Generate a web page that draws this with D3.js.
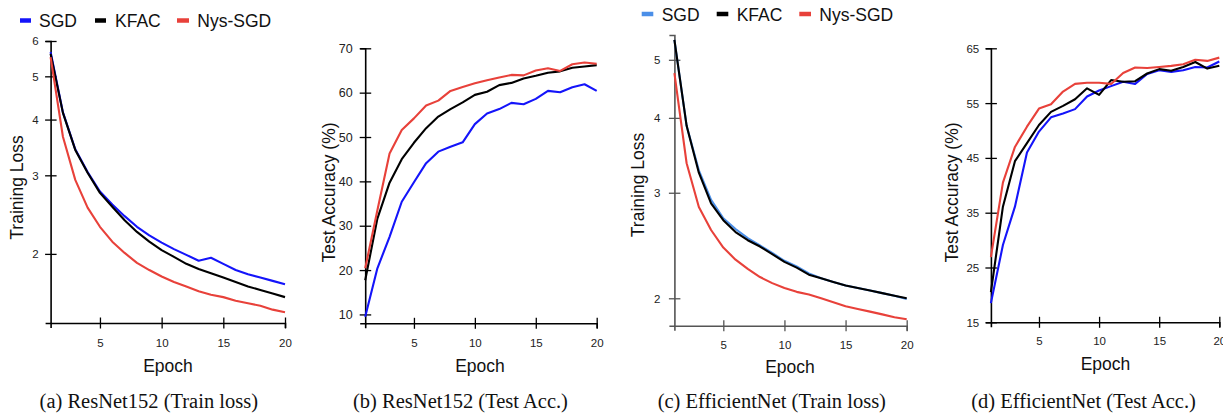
<!DOCTYPE html>
<html>
<head>
<meta charset="utf-8">
<script src="https://cdn.jsdelivr.net/npm/d3@7"></script>
<style>
  html, body { margin: 0; padding: 0; background: #fff; }
  svg { display: block; }
  text { font-family: "Liberation Sans", Arial, Helvetica, sans-serif; }
  .caption { font-family: "Liberation Serif", "Times New Roman", serif; }
</style>
</head>
<body>
<svg id="chart" width="1223" height="413"></svg>
<script>
// ---------- data ----------
const epochs = [1,2,3,4,5,6,7,8,9,10,11,12,13,14,15,16,17,18,19,20];
const seriesNames = ["SGD", "KFAC", "Nys-SGD"];

// (a) ResNet152 train loss
const resnetLossSGD  = [5.67,4.15,3.43,3.05,2.76,2.58,2.43,2.30,2.20,2.12,2.05,1.99,1.93,1.96,1.90,1.84,1.80,1.77,1.74,1.71];
const resnetLossKFAC = [5.62,4.14,3.42,3.04,2.74,2.55,2.38,2.24,2.13,2.04,1.97,1.90,1.85,1.81,1.77,1.73,1.69,1.66,1.63,1.60];
const resnetLossNys  = [5.52,3.66,2.93,2.54,2.30,2.13,2.01,1.91,1.84,1.78,1.73,1.69,1.65,1.62,1.60,1.57,1.55,1.53,1.50,1.48];

// (b) ResNet152 test accuracy
const resnetAccSGD  = [9.5,20.4,27.5,35.4,39.8,44.1,46.7,47.8,48.8,52.9,55.3,56.3,57.7,57.4,58.6,60.4,60.1,61.2,61.9,60.4];
const resnetAccKFAC = [17.7,31.6,39.7,45.0,48.7,52.0,54.6,56.3,57.8,59.5,60.2,61.7,62.2,63.2,63.8,64.5,64.8,65.6,65.9,66.2];
const resnetAccNys  = [20.4,33.5,46.3,51.6,54.2,57.1,58.2,60.4,61.3,62.1,62.8,63.4,64.0,63.9,65.0,65.5,64.9,66.4,66.8,66.5];

// (c) EfficientNet train loss
const effLossSGD  = [5.40,3.88,3.27,2.92,2.72,2.61,2.52,2.45,2.38,2.31,2.26,2.20,2.16,2.13,2.10,2.08,2.06,2.04,2.02,1.995];
const effLossKFAC = [5.40,3.88,3.24,2.88,2.70,2.58,2.50,2.44,2.37,2.30,2.25,2.19,2.16,2.13,2.10,2.08,2.06,2.04,2.02,2.00];
const effLossNys  = [4.75,3.36,2.84,2.60,2.43,2.32,2.24,2.17,2.12,2.08,2.05,2.03,2.00,1.97,1.94,1.92,1.90,1.88,1.86,1.845];

// (d) EfficientNet test accuracy
const effAccSGD  = [18.5,29.1,36.1,46.0,49.8,52.4,53.1,53.9,56.2,57.3,58.1,58.9,58.5,60.3,61.0,60.7,61.0,61.6,61.5,62.6];
const effAccKFAC = [20.5,36.1,44.4,47.7,51.0,53.4,54.5,55.7,57.7,56.5,59.2,58.9,59.0,60.4,61.2,60.9,61.6,62.5,61.3,61.8];
const effAccNys  = [26.9,40.5,47.0,50.7,54.0,54.8,57.1,58.5,58.7,58.7,58.5,60.5,61.5,61.4,61.6,61.8,62.1,62.9,62.7,63.3];

// tick labels
const xTicks = [5,10,15,20];
const resnetLossTicks = [2,3,4,5,6];
const resnetAccTicks = [10,20,30,40,50,60,70];
const effLossTicks = [2,3,4,5];
const effAccTicks = [15,25,35,45,55,65];

const captions = ["(a) ResNet152 (Train loss)", "(b) ResNet152 (Test Acc.)", "(c) EfficientNet (Train loss)", "(d) EfficientNet (Test Acc.)"];
const yTitles = ["Training Loss", "Test Accuracy (%)", "Training Loss", "Test Accuracy (%)"];

// ---------- drawing ----------
const svg = d3.select("#chart");
const RED = "#e8413a", BLUE = "#1414fa", LIGHTBLUE = "#4b8fe8", BLACK = "#000";

const panels = [
  { series:[resnetLossSGD,resnetLossKFAC,resnetLossNys], colors:[BLUE,BLACK,RED], log:true,
    yDomain:[1.4,6], yTicks:resnetLossTicks, xr:[50.6,285], yr:[323,41], axisColor:"#000",
    yLabelX:22.5, yLabelY:187.5, yTickFont:11.5, epochX:168, epochY:371.5, capX:148.8,
    xTickDy:24, yTickDx:12 },
  { series:[resnetAccSGD,resnetAccKFAC,resnetAccNys], colors:[BLUE,BLACK,RED], log:false,
    yDomain:[8,70], yTicks:resnetAccTicks, xr:[365.2,596.7], yr:[323.3,48.3], axisColor:"#000",
    yLabelX:335, yLabelY:192.5, yTickFont:12.5, epochX:480, epochY:371.5, capX:460.5,
    xTickDy:23.4, yTickDx:12.6 },
  { series:[effLossSGD,effLossKFAC,effLossNys], colors:[LIGHTBLUE,BLACK,RED], log:true,
    yDomain:[1.8,5.5], yTicks:effLossTicks, xr:[674.4,906.7], yr:[325.7,35], axisColor:"#555",
    yLabelX:643.5, yLabelY:185, yTickFont:11.5, epochX:790, epochY:372.5, capX:771.8,
    xTickDy:23.3, yTickDx:14 },
  { series:[effAccSGD,effAccKFAC,effAccNys], colors:[BLUE,BLACK,RED], log:false,
    yDomain:[15,65], yTicks:effAccTicks, xr:[990.9,1219.3], yr:[322.3,48.3], axisColor:"#000",
    yLabelX:958, yLabelY:192.5, yTickFont:11.5, epochX:1105.5, epochY:370, capX:1083.5,
    xTickDy:22.7, yTickDx:11.7 }
];

panels.forEach((p, i) => {
  const g = svg.append("g");
  const x = d3.scaleLinear().domain([1,20]).range(p.xr);
  const y = (p.log ? d3.scaleLog() : d3.scaleLinear()).domain(p.yDomain).range(p.yr);

  // y axis
  const yAxis = d3.axisLeft(y).tickValues(p.yTicks).tickFormat(d3.format("d")).tickSizeOuter(0).tickSize(5);
  const ya = g.append("g").attr("transform", `translate(${p.xr[0]},0)`).call(yAxis);
  ya.select(".domain").attr("stroke", p.axisColor).attr("stroke-width", 1.6);
  ya.selectAll(".tick line").attr("x1", -5.5).attr("x2", 6).attr("stroke", p.axisColor).attr("stroke-width", 1.3);
  ya.selectAll(".tick text").attr("x", -p.yTickDx).attr("dy", "0.34em")
    .attr("font-size", p.yTickFont).attr("fill", "#222")
    .style("font-family", '"Liberation Sans", Arial, sans-serif');

  // x axis
  const xAxis = d3.axisBottom(x).tickValues(xTicks).tickFormat(d3.format("d")).tickSizeOuter(0).tickSize(5);
  const xa = g.append("g").attr("transform", `translate(0,${p.yr[0]})`).call(xAxis);
  xa.select(".domain").attr("stroke", p.axisColor).attr("stroke-width", 1.6);
  xa.selectAll(".tick line").attr("y1", -5.5).attr("y2", 5.5).attr("stroke", p.axisColor).attr("stroke-width", 1.3);
  xa.selectAll(".tick text").attr("y", p.xTickDy).attr("dy", 0)
    .attr("font-size", 11.5).attr("fill", "#222")
    .style("font-family", '"Liberation Sans", Arial, sans-serif');

  // lines
  const line = d3.line().x((d, k) => x(epochs[k])).y(d => y(d));
  p.series.forEach((s, k) => {
    g.append("path").datum(s).attr("d", line)
      .attr("fill", "none").attr("stroke", p.colors[k]).attr("stroke-width", 2.1)
      .attr("stroke-linejoin", "round");
  });

  // axis titles
  g.append("text").attr("x", p.epochX).attr("y", p.epochY).attr("text-anchor", "middle")
    .attr("font-size", 17.5).attr("fill", "#111").text("Epoch");
  g.append("text").attr("transform", `translate(${p.yLabelX},${p.yLabelY}) rotate(-90)`)
    .attr("text-anchor", "middle").attr("font-size", 17.5).attr("fill", "#111").text(yTitles[i]);

  // caption
  g.append("text").attr("class", "caption").attr("x", p.capX).attr("y", 408)
    .attr("text-anchor", "middle").attr("font-size", 20.5).attr("fill", "#111").text(captions[i]);
});

// legends
function legend(items, colors, y, ty) {
  items.forEach((it, k) => {
    svg.append("line").attr("x1", it.s0).attr("x2", it.s1).attr("y1", y).attr("y2", y)
      .attr("stroke", colors[k]).attr("stroke-width", 4.5);
    svg.append("text").attr("x", it.t).attr("y", ty).attr("font-size", 17.5).attr("fill", "#111")
      .text(seriesNames[k]);
  });
}
legend([{s0:20,s1:31,t:39},{s0:95,s1:106,t:115},{s0:177,s1:189,t:197.3}], [BLUE,BLACK,RED], 20.5, 26.8);
legend([{s0:641.7,s1:653.3,t:661.7},{s0:716.7,s1:728.3,t:736.7},{s0:799.3,s1:811,t:819.3}], [LIGHTBLUE,BLACK,RED], 14, 20.5);
</script>
</body>
</html>
